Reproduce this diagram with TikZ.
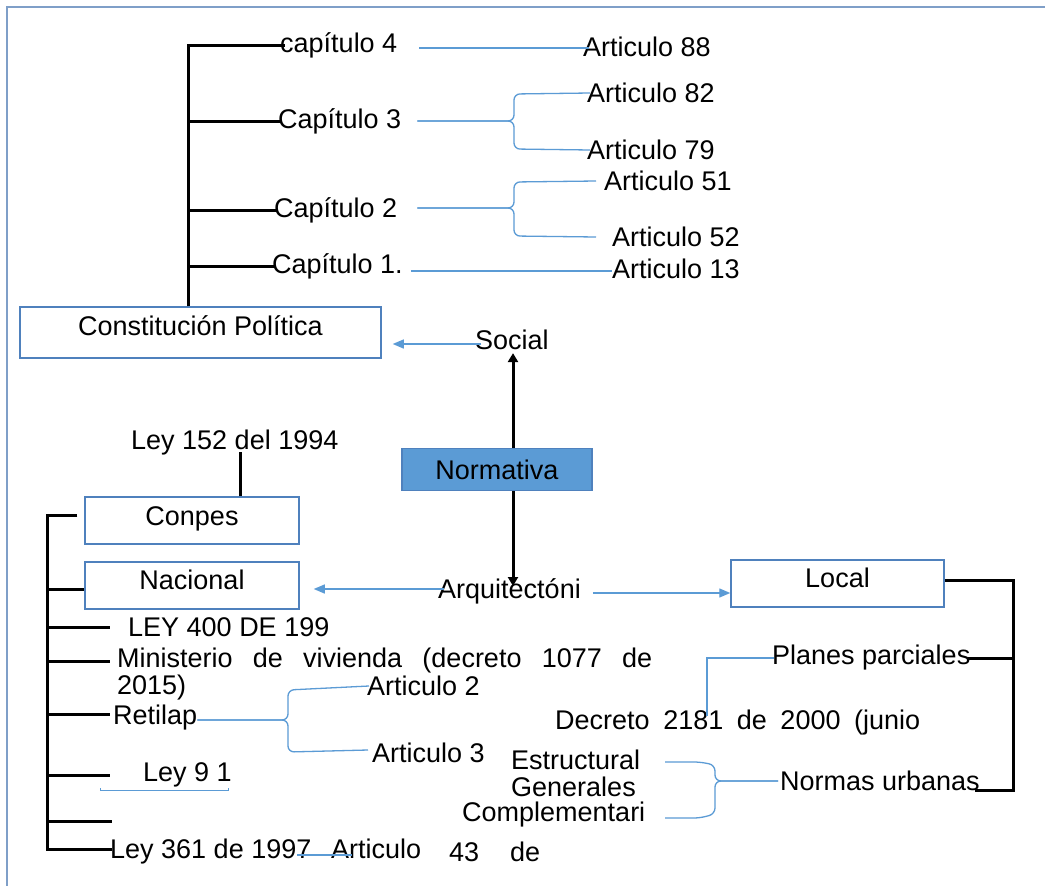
\documentclass[tikz,border=0pt]{standalone}
\usepackage{fontspec}
\setmainfont{Liberation Sans}
\usetikzlibrary{arrows.meta}
\definecolor{lblue}{HTML}{5B9BD5}
\definecolor{bord}{HTML}{4F81BD}
\definecolor{framec}{HTML}{7F9FC8}
\definecolor{nfill}{HTML}{5B9BD5}
\tikzset{
  txt/.style={anchor=west, inner sep=0pt, font=\fontsize{27}{31}\selectfont},
  boxn/.style={draw=bord, line width=1.5pt, inner sep=0pt, font=\fontsize{27}{31}\selectfont},
  blk/.style={line width=3pt, black},
  bl/.style={lblue, line width=1.3pt},
  barrow/.style={bl, -{Triangle[length=11pt,width=9pt]}},
  karrow/.style={line width=3pt, black, -{Triangle[length=9pt,width=10pt]}},
}
\begin{document}
\begin{tikzpicture}[x=1pt,y=-1pt]
\useasboundingbox (0,0) rectangle (1045,886);
\fill[white] (0,0) rectangle (1045,886);
% frame
\draw[framec, line width=1.5pt] (7,886) -- (7,7) -- (1045,7);

% ---- top section
\node[txt] (c4) at (280,45) {capítulo 4};
\node[txt] (c3) at (278,121) {Capítulo 3};
\node[txt] (c2) at (274,210) {Capítulo 2};
\node[txt] (c1) at (272,266) {Capítulo 1.};
\node[txt] (a88) at (583,47) {Articulo 88};
\node[txt] (a82) at (587,93) {Articulo 82};
\node[txt] (a79) at (587,150) {Articulo 79};
\node[txt] (a51) at (604,181) {Articulo 51};
\node[txt] (a52) at (612,237) {Articulo 52};
\node[txt] (a13) at (612,269) {Articulo 13};

\node[boxn, minimum width=361pt, minimum height=51pt, text depth=14pt] (cp) at (200.5,332.5) {Constitución Política};
\coordinate (t4) at (188,45);
\draw[blk] (cp.north -| t4) -- (t4) -- ([xshift=5pt]c4.west);
\draw[blk] (t4 |- c3.west) -- ([xshift=3pt]c3.west);
\draw[blk] (t4 |- c2.west) -- ([xshift=3pt]c2.west);
\draw[blk] (t4 |- c1.west) -- ([xshift=3pt]c1.west);

% blue connectors top
\coordinate (b3) at (514,121);
\coordinate (b2) at (514,208);
\draw[bl] ([xshift=22pt,yshift=-3pt]c4.east) -- ([xshift=6pt,yshift=-1pt]a88.west);
\draw[bl, rounded corners=6pt] ([xshift=16pt]c3.east) -- (b3) -- (514,94) -- ([xshift=3pt]a82.west);
\draw[bl, rounded corners=6pt] ([xshift=16pt]c3.east) -- (b3) -- (514,149) -- ([xshift=3pt]a79.west);
\draw[bl, rounded corners=6pt] ([xshift=20pt]c2.east |- b2) -- (b2) -- (514,182) -- ([xshift=-8pt]a51.west);
\draw[bl, rounded corners=6pt] ([xshift=20pt]c2.east |- b2) -- (b2) -- (514,236) -- ([xshift=-16pt]a52.west);
\draw[bl] ([xshift=8pt,yshift=-5pt]c1.east) -- ([yshift=-2pt]a13.west);

% ---- centre
\node[txt] (soc) at (475,340) {Social};
\node[boxn, fill=nfill, draw=bord, minimum width=190pt, minimum height=42pt] (nor) at (497,469.5) {Normativa};
\node[txt] (arq) at (438,591) {Arquitectóni};
\draw[barrow] ([xshift=6pt,yshift=-4pt]soc.west) -- ([xshift=11pt,yshift=-4pt]soc.west -| cp.east);
\draw[karrow] ([xshift=16pt]nor.north) -- ([xshift=16pt,yshift=-3pt]nor.north |- soc.south);
\coordinate (arqtop) at (513,586);
\draw[karrow] ([xshift=16pt]nor.south) -- (arqtop);

% ---- Local side
\node[boxn, minimum width=213pt, minimum height=47pt, text depth=11pt] (loc) at (837.5,583.5) {Local};
\node[boxn, minimum width=214pt, minimum height=47pt, text depth=11pt] (nac) at (192,585.5) {Nacional};
\draw[barrow] ([xshift=6pt,yshift=2pt]arq.west) -- ([xshift=14pt,yshift=2pt]arq.west -| nac.east);
\draw[barrow] ([xshift=12pt,yshift=-2pt]arq.east) -- ([yshift=-2pt]arq.east -| loc.west);

\node[txt] (pp) at (772,658) {Planes parciales};
\node[txt] (dec) at (555,723) {\hbox to 365pt{Decreto\hfill 2181\hfill de\hfill 2000\hfill (junio}};
\node[txt] (nu) at (780,781) {Normas urbanas};
\node[txt] (est) at (511,760) {Estructural};
\node[txt] (gen) at (511,787) {Generales};
\node[txt] (com) at (462,815) {Complementari};

\coordinate (rt) at (1013,580);
\coordinate (rb) at (1013,790);
\coordinate (rbe) at (975,790);
\draw[blk] ([yshift=3.5pt]loc.east) -- (rt) -- (rb) -- (rbe);
\draw[blk] (rt |- pp.east) -- ([xshift=-3pt]pp.east);
\coordinate (pdn) at (707,716);
\draw[bl] ([xshift=2pt]pp.west) -- (pdn |- pp.west) -- (pdn);
\coordinate (bn) at (715,781);
\coordinate (est2) at (665,762);
\coordinate (com2) at (665,818);
\draw[bl, rounded corners=6pt] ([xshift=-2pt]nu.west) -- (bn) -- (715,765) -- (700,762) -- (est2);
\draw[bl, rounded corners=6pt] ([xshift=-2pt]nu.west) -- (bn) -- (715,814) -- (700,818) -- (com2);

% ---- left bottom
\node[txt] (l152) at (131,443) {Ley 152 del 1994};
\node[boxn, minimum width=214pt, minimum height=47pt, text depth=9pt] (con) at (192,520.5) {Conpes};
\draw[blk] ([xshift=48pt]con.north) -- ([xshift=48pt,yshift=4pt]con.north |- l152.south);

\node[txt] (l400) at (128,627) {LEY 400 DE 199};
\node[txt] (min) at (117,661) {\hbox to 535pt{Ministerio\hfill de\hfill vivienda\hfill (decreto\hfill 1077\hfill de}};
\node[txt] (m2) at (117,688) {2015)};
\node[txt] (ret) at (113,718) {Retilap};
\node[txt] (a2) at (367,686) {Articulo 2};
\node[txt] (a3) at (372,753) {Articulo 3};
\node[txt] (l91) at (143,775) {Ley 9 1};
\node[txt] (l361) at (110,852) {\hbox to 311pt{Ley 361 de 1997\hfill Articulo}};
\node[txt] (n43) at (449,852) {43};
\node[txt] (nde) at (510,852) {de};

\coordinate (lt) at (47,515);
\coordinate (lb) at (47,849);
\coordinate (blank) at (112,821);
\draw[blk] ([xshift=-7pt,yshift=5.5pt]con.west) -- (lt) -- (lb) -- ([xshift=2pt]lb -| l361.west);
\draw[blk] (lt |- nac.west) ++(0,3.5) -- ([yshift=-3.5pt]nac.west);
\draw[blk] (lt |- l400.west) -- ([xshift=-18pt]l400.west);
\draw[blk] (lt |- min.west) -- ([xshift=-7pt]min.west);
\draw[blk] (lt |- ret.west) ++(0,-4) -- ([xshift=-3pt,yshift=4pt]ret.west);
\draw[blk] (lt |- l91.west) -- ([xshift=-33pt]l91.west);
\draw[blk] (lt |- blank) -- (blank);

\coordinate (br) at (288,720);
\draw[bl, rounded corners=6pt] (ret.east |- br) -- (br) -- (288,690) -- ([xshift=2pt]a2.west);
\draw[bl, rounded corners=6pt] (ret.east |- br) -- (br) -- (288,752) -- ([xshift=-4pt,yshift=3pt]a3.west);
\coordinate (u1) at (100,790);
\coordinate (u2) at (228,790);
\draw[lblue, line width=1pt] (u1) -- (u2);
\draw[lblue, line width=1pt] ([yshift=2pt]u1) -- ([yshift=-1pt]u1);
\draw[lblue, line width=1pt] ([yshift=2pt]u2) -- ([yshift=-1pt]u2);
\coordinate (sl) at (297,855);
\draw[bl, line width=2pt] (sl) -- ([xshift=55pt]sl);
\end{tikzpicture}
\end{document}
